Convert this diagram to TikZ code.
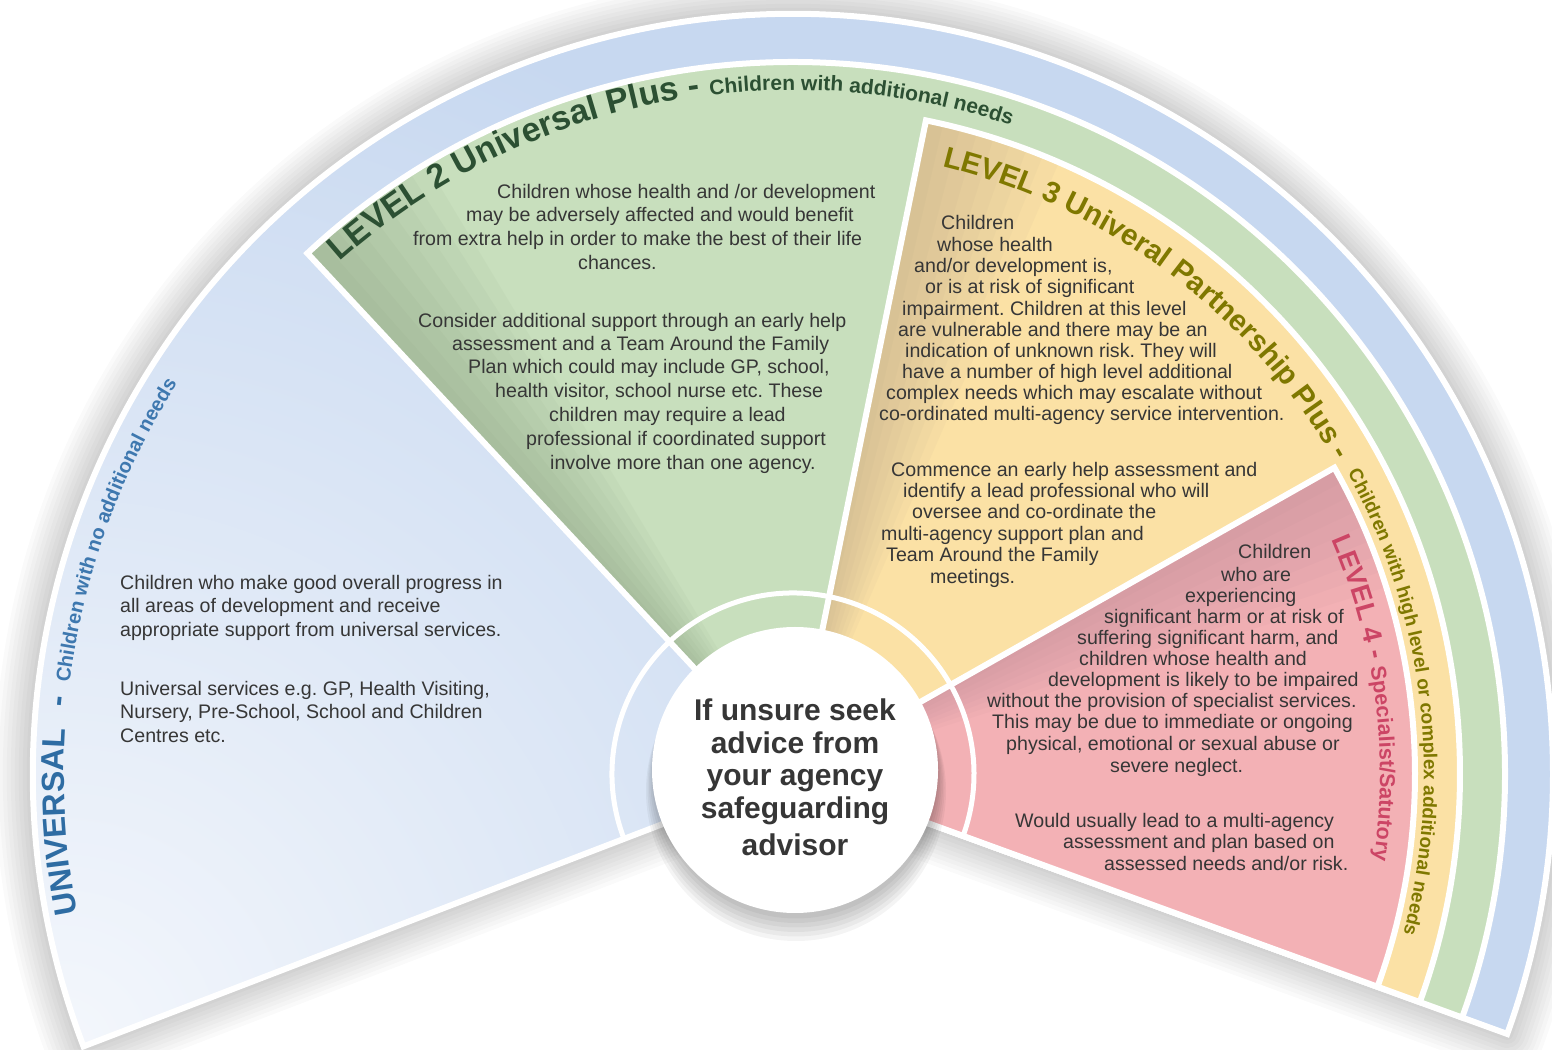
\documentclass[tikz,border=0pt]{standalone}
\usepackage{fontspec}
\setmainfont{Liberation Sans}
\usetikzlibrary{decorations.text}
\definecolor{bluefill}{HTML}{C7D8F0}
\definecolor{bluelight}{HTML}{F4F7FC}
\definecolor{greenfill}{HTML}{C8DFBD}
\definecolor{greendark}{HTML}{74896A}
\definecolor{yellowfill}{HTML}{FBE1A5}
\definecolor{yellowdark}{HTML}{9E8F7E}
\definecolor{pinkfill}{HTML}{F3B1B5}
\definecolor{pinkdark}{HTML}{A07884}
\definecolor{bodycol}{HTML}{363636}
\definecolor{unicol}{HTML}{2E6CA3}
\definecolor{unisub}{HTML}{3E78AF}
\definecolor{ltwocol}{HTML}{2C5033}
\definecolor{lthreecol}{HTML}{7F7800}
\definecolor{lfourcol}{HTML}{CC4565}
\newcommand\fanpath[3]{(C) -- ([shift={(#1:#3)}]C) arc[start angle=#1, end angle=#2, radius=#3] -- cycle}
\newcommand\bline[4]{\node[body] (#1) at (#2,{1043-#3}) {#4};}
% edge darkening: thin wedges along the left radial edge of a sector
\newcommand\edgeshade[4]{%
  \foreach \d in {1.5,3,4.5,6,7.5,9,10.5,12} {
    \fill[#3, opacity=#4] \fanpath{#1}{#1-\d}{#2};
  }}
\frenchspacing
\begin{document}
\begin{tikzpicture}[x=1pt,y=1pt,
  body/.style={font=\fontsize{19.6}{24}\selectfont, text=bodycol, inner sep=0pt, anchor=base west},
  sepline/.style={draw=white, line width=6pt, line join=miter}
]
\useasboundingbox (0,0) rectangle (1552,1049);
\fill[white] (0,0) rectangle (1552,1049);
\coordinate (C) at (793,275);
\coordinate (O) at (795,279);

% soft shadow of the fan
\begin{scope}[shift={(6,-8)}]
  \foreach \w in {76,68,60,52,44,36,28,20,12,6} {
    \draw[black, opacity=0.018, line width=\w pt, line join=round] \fanpath{201}{-20}{760};
  }
\end{scope}

% LEVEL 1 (blue)
\fill[bluefill] \fanpath{201}{-20}{760};
\begin{scope}
  \clip \fanpath{201}{-20}{760};
  \shade[inner color=bluelight, outer color=bluefill] (60,0) circle[radius=1100];
\end{scope}
\draw[sepline] \fanpath{201}{-20}{760};

% LEVEL 2 (green)
\fill[greenfill] \fanpath{133}{-20}{712};
\edgeshade{133}{712}{greendark}{0.05}
\draw[sepline] \fanpath{133}{-20}{712};

% LEVEL 3 (yellow)
\fill[yellowfill] \fanpath{78.5}{-20}{667};
\edgeshade{78.5}{667}{yellowdark}{0.05}
\draw[sepline] \fanpath{78.5}{-20}{667};

% LEVEL 4 (pink)
\fill[pinkfill] \fanpath{29.5}{-20}{622};
\edgeshade{29.5}{622}{pinkdark}{0.045}
\draw[sepline] \fanpath{29.5}{-20}{622};

% inner white ring line
\draw[white, line width=5pt] ([shift={(201:181)}]C) arc[start angle=201, end angle=-20, radius=181];

% centre disc with shadow
\foreach \k in {1,...,6} {
  \fill[black, opacity=0.045] ([shift={(1,{-3-3*\k})}]O) circle[radius={141+1.5*\k}];
}
\fill[white] (O) circle[radius=143];
\node[font=\bfseries\fontsize{30}{32.5}\selectfont, text=bodycol, align=center, inner sep=0pt] (hubtext) at (795,271.5)
  {If unsure seek\\advice from\\your agency\\safeguarding\\[5pt]advisor};

% curved titles
\path[decorate, decoration={text along path, text color=unicol,
  text={|\bfseries\fontsize{32}{32}\selectfont|UNIVERSAL{\rule{22pt}{0pt}}-|\bfseries\fontsize{20}{20}\selectfont\color{unisub}|{\rule{14pt}{0pt}}Children with no additional needs}}]
  ([shift={(191:729)}]C) arc[start angle=191, end angle=125, radius=729];

\path[decorate, decoration={text along path, text color=ltwocol,
  text={|\bfseries\fontsize{34}{34}\selectfont|LEVEL 2 Universal Plus - |\bfseries\fontsize{21}{21}\selectfont|Children with additional needs}}]
  ([shift={(131.5:684)}]C) arc[start angle=131.5, end angle=55, radius=684];

\path[decorate, decoration={text along path, text color=lthreecol,
  text={|\bfseries\fontsize{29.5}{29.5}\selectfont|LEVEL 3 Univeral Partnership Plus -}}]
  ([shift={(76.2:626)}]C) arc[start angle=76.2, end angle=20, radius=626];

\path[decorate, decoration={text along path, text color=lthreecol,
  text={|\bfseries\fontsize{19}{19}\selectfont|Children with high level or complex additional needs}}]
  ([shift={(28.5:631)}]C) arc[start angle=28.5, end angle=-22, radius=631];

\path[decorate, decoration={text along path, text color=lfourcol,
  text={|\bfseries\fontsize{27}{27}\selectfont|LEVEL 4 - |\bfseries\fontsize{21.5}{21.5}\selectfont|Specialist/Satutory}}]
  ([shift={(23.5:587)}]C) arc[start angle=23.5, end angle=-22, radius=587];

% LEVEL 1 text
\bline{u1}{120}{584}{Children who make good overall progress in}
\bline{u2}{120}{607}{all areas of development and receive}
\bline{u3}{120}{631}{appropriate support from universal services.}
\bline{u4}{120}{690}{Universal services e.g. GP, Health Visiting,}
\bline{u5}{120}{713}{Nursery, Pre-School, School and Children}
\bline{u6}{120}{737}{Centres etc.}

% LEVEL 2 text
\bline{a1}{497}{193}{Children whose health and /or development}
\bline{a2}{466}{216}{may be adversely affected and would benefit}
\bline{a3}{413}{240}{from extra help in order to make the best of their life}
\bline{a4}{578}{264}{chances.}
\bline{a5}{418}{322}{Consider additional support through an early help}
\bline{a6}{452}{345}{assessment and a Team Around the Family}
\bline{a7}{468}{368}{Plan which could may include GP, school,}
\bline{a8}{495}{392}{health visitor, school nurse etc. These}
\bline{a9}{549}{416}{children may require a lead}
\bline{a10}{526}{440}{professional if coordinated support}
\bline{a11}{550}{464}{involve more than one agency.}

% LEVEL 3 text
\bline{b1}{941}{224}{Children}
\bline{b2}{937}{246}{whose health}
\bline{b3}{914}{267}{and/or development is,}
\bline{b4}{925}{288}{or is at risk of significant}
\bline{b5}{902}{310}{impairment. Children at this level}
\bline{b6}{898}{331}{are vulnerable and there may be an}
\bline{b7}{905}{352}{indication of unknown risk. They will}
\bline{b8}{902}{373}{have a number of high level additional}
\bline{b9}{886}{394}{complex needs which may escalate without}
\bline{b10}{879}{415}{co-ordinated multi-agency service intervention.}
\bline{b11}{891}{471}{Commence an early help assessment and}
\bline{b12}{903}{492}{identify a lead professional who will}
\bline{b13}{912}{513}{oversee and co-ordinate the}
\bline{b14}{881}{535}{multi-agency support plan and}
\bline{b15}{886}{556}{Team Around the Family}
\bline{b16}{930}{578}{meetings.}

% LEVEL 4 text
\bline{c1}{1238}{553}{Children}
\bline{c2}{1221}{576}{who are}
\bline{c3}{1185}{597}{experiencing}
\bline{c4}{1104}{618}{significant harm or at risk of}
\bline{c5}{1077}{639}{suffering significant harm, and}
\bline{c6}{1079}{660}{children whose health and}
\bline{c7}{1048}{681}{development is likely to be impaired}
\bline{c8}{987}{702}{without the provision of specialist services.}
\bline{c9}{992}{723}{This may be due to immediate or ongoing}
\bline{c10}{1006}{745}{physical, emotional or sexual abuse or}
\bline{c11}{1110}{767}{severe neglect.}
\bline{c12}{1015}{822}{Would usually lead to a multi-agency}
\bline{c13}{1063}{843}{assessment and plan based on}
\bline{c14}{1104}{865}{assessed needs and/or risk.}
\end{tikzpicture}
\end{document}
